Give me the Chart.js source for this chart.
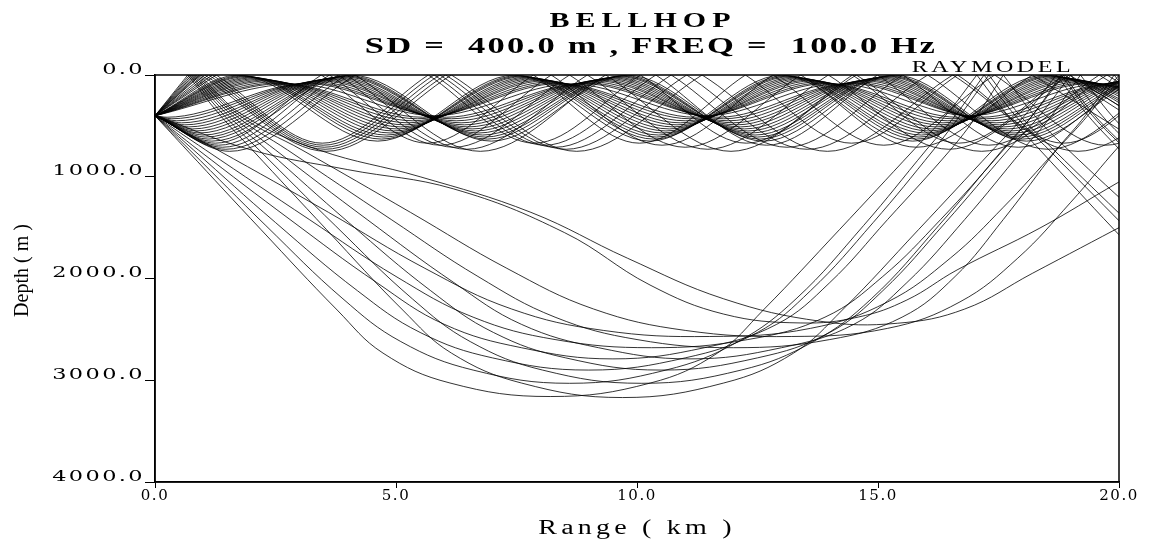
<!DOCTYPE html>
<html>
<head>
<meta charset="utf-8">
<script src="https://cdn.jsdelivr.net/npm/chart.js@4.4.1/dist/chart.umd.min.js"></script>
<style>
  html, body { margin: 0; padding: 0; background: #fff; }
  #wrap { width: 1155px; height: 545px; }
</style>
</head>
<body>
<div id="wrap"><canvas id="rays" width="1155" height="545"></canvas></div>
<script>
// axes
const rangeTicks = [0, 5, 10, 15, 20];
const rangeTickLabels = ['0.0', '5.0', '10.0', '15.0', '20.0'];
const depthTicks = [0, 1000, 2000, 3000, 4000];
const depthTickLabels = ['0.0', '1000.0', '2000.0', '3000.0', '4000.0'];

// rays trapped in the upper duct, launched downward: [range km, depth m]
const ductRaysDown = [
  [[0,400],[0.25,415],[3.15,84],[6.05,415],[8.88,84],[11.7,415],[14.43,84],[17.15,415],[19.88,84],[22.6,415]],
  [[0,400],[0.35,430],[3.25,78],[6.15,430],[8.98,78],[11.8,430],[14.53,78],[17.25,430],[19.98,78],[22.7,430]],
  [[0,400],[0.45,450],[3.35,68],[6.25,450],[9.08,68],[11.9,450],[14.63,68],[17.35,450],[20.08,68],[22.8,450]],
  [[0,400],[0.55,470],[3.45,58],[6.35,470],[9.18,58],[12,470],[14.73,58],[17.45,470],[20.18,58],[22.9,470]],
  [[0,400],[0.62,490],[3.52,50],[6.42,490],[9.25,50],[12.07,490],[14.8,50],[17.52,490],[20.25,50],[22.97,490]],
  [[0,400],[0.7,510],[3.6,42],[6.5,510],[9.33,42],[12.15,510],[14.88,42],[17.6,510],[20.33,42],[23.05,510]],
  [[0,400],[0.78,530],[3.68,35],[6.58,530],[9.41,35],[12.23,530],[14.96,35],[17.68,530],[20.41,35],[23.13,530]],
  [[0,400],[0.85,550],[3.75,28],[6.65,550],[9.48,28],[12.3,550],[15.03,28],[17.75,550],[20.48,28],[23.2,550]],
  [[0,400],[0.92,570],[3.82,22],[6.72,570],[9.55,22],[12.37,570],[15.1,22],[17.82,570],[20.55,22],[23.27,570]],
  [[0,400],[1,590],[3.9,16],[6.8,590],[9.63,16],[12.45,590],[15.18,16],[17.9,590],[20.63,16],[23.35,590]],
  [[0,400],[1.05,610],[3.95,11],[6.85,610],[9.68,11],[12.5,610],[15.23,11],[17.95,610],[20.68,11],[23.4,610]],
  [[0,400],[1.1,630],[4,6],[6.9,630],[9.73,6],[12.55,630],[15.28,6],[18,630],[20.73,6],[23.45,630]],
  [[0,400],[1.18,650],[4.08,2],[6.98,650],[9.81,2],[12.63,650],[15.36,2],[18.08,650],[20.81,2],[23.53,650]],
  [[0,400],[1.25,670],[3.45,0],[5.65,670],[7.85,0],[10.05,670],[12.25,0],[14.45,670],[16.65,0],[18.85,670],[21.05,0]],
  [[0,400],[1.32,690],[3.62,0],[5.92,690],[8.22,0],[10.52,690],[12.82,0],[15.12,690],[17.42,0],[19.72,690],[22.02,0]],
  [[0,400],[1.4,710],[3.8,0],[6.2,710],[8.6,0],[11,710],[13.4,0],[15.8,710],[18.2,0],[20.6,710]],
  [[0,400],[1.47,730],[3.97,0],[6.47,730],[8.97,0],[11.47,730],[13.97,0],[16.47,730],[18.97,0],[21.47,730]],
  [[0,400],[1.55,750],[4.15,0],[6.75,750],[9.35,0],[11.95,750],[14.55,0],[17.15,750],[19.75,0],[22.35,750]]
];

// rays trapped in the upper duct, launched upward
const ductRaysUp = [
  [[0,400],[2.9,88],[5.8,400],[8.63,88],[11.45,400],[14.18,88],[16.9,400],[19.63,88],[22.35,400]],
  [[0,400],[2.65,84],[5.55,415],[8.38,84],[11.2,415],[13.93,84],[16.65,415],[19.38,84],[22.1,415]],
  [[0,400],[2.55,78],[5.45,430],[8.28,78],[11.1,430],[13.83,78],[16.55,430],[19.28,78],[22,430]],
  [[0,400],[2.45,68],[5.35,450],[8.18,68],[11,450],[13.73,68],[16.45,450],[19.18,68],[21.9,450]],
  [[0,400],[2.35,58],[5.25,470],[8.08,58],[10.9,470],[13.63,58],[16.35,470],[19.08,58],[21.8,470]],
  [[0,400],[2.28,50],[5.18,490],[8.01,50],[10.83,490],[13.56,50],[16.28,490],[19.01,50],[21.73,490]],
  [[0,400],[2.2,42],[5.1,510],[7.93,42],[10.75,510],[13.48,42],[16.2,510],[18.93,42],[21.65,510]],
  [[0,400],[2.12,35],[5.02,530],[7.85,35],[10.67,530],[13.4,35],[16.12,530],[18.85,35],[21.57,530]],
  [[0,400],[2.05,28],[4.95,550],[7.78,28],[10.6,550],[13.33,28],[16.05,550],[18.78,28],[21.5,550]],
  [[0,400],[1.98,22],[4.88,570],[7.71,22],[10.53,570],[13.26,22],[15.98,570],[18.71,22],[21.43,570]],
  [[0,400],[1.9,16],[4.8,590],[7.63,16],[10.45,590],[13.18,16],[15.9,590],[18.63,16],[21.35,590]],
  [[0,400],[1.85,11],[4.75,610],[7.58,11],[10.4,610],[13.13,11],[15.85,610],[18.58,11],[21.3,610]],
  [[0,400],[1.8,6],[4.7,630],[7.53,6],[10.35,630],[13.08,6],[15.8,630],[18.53,6],[21.25,630]],
  [[0,400],[1.72,2],[4.62,650],[7.45,2],[10.27,650],[13,2],[15.72,650],[18.45,2],[21.17,650]],
  [[0,400],[1.27,0],[3.47,670],[5.67,0],[7.87,670],[10.07,0],[12.27,670],[14.47,0],[16.67,670],[18.87,0],[21.07,670]],
  [[0,400],[1.19,0],[3.49,690],[5.79,0],[8.09,690],[10.39,0],[12.69,690],[14.99,0],[17.29,690],[19.59,0],[21.89,690]],
  [[0,400],[1.11,0],[3.51,710],[5.91,0],[8.31,710],[10.71,0],[13.11,710],[15.51,0],[17.91,710],[20.31,0]],
  [[0,400],[1.03,0],[3.53,730],[6.03,0],[8.53,730],[11.03,0],[13.53,730],[16.03,0],[18.53,730],[21.03,0]],
  [[0,400],[0.95,0],[3.55,750],[6.15,0],[8.75,750],[11.35,0],[13.95,750],[16.55,0],[19.15,750],[21.75,0]]
];

// deep refracted rays launched downward
const deepRaysDown = [
  [[0,400],[0.66,737],[2.2,1520],[3.78,2310],[4.73,2733],[6.12,3027],[8.2,3160],[10.28,3027],[11.67,2733],[12.62,2310],[14.2,1520],[15.74,737],[16.4,400],[17.05,0],[17.7,400],[18.36,737],[19.9,1520],[21.5,2310]],
  [[0,400],[0.72,737],[2.3,1480],[3.9,2200],[5.1,2620],[6.6,2900],[8.6,3030],[10.6,2900],[12.1,2620],[13.3,2200],[14.7,1480],[16,737],[16.6,400],[17.2,0],[17.85,400],[18.55,737],[20.1,1480]],
  [[0,400],[0.8,737],[2.5,1450],[4.2,2120],[5.5,2530],[7,2780],[9,2900],[11,2780],[12.5,2530],[13.6,2120],[14.9,1450],[16.15,737],[16.7,400],[17.3,0],[17.95,400],[18.65,737],[20.2,1450]],
  [[0,400],[0.9,737],[2.8,1420],[4.6,2040],[6,2450],[7.6,2680],[9.5,2790],[11.4,2680],[12.9,2450],[14,2040],[15.2,1420],[16.5,737],[17.05,400],[17.6,0],[18.25,400],[18.95,737],[20.5,1420]],
  [[0,400],[1.05,737],[3.2,1420],[5,1980],[6.6,2380],[8.3,2600],[10.3,2680],[12.3,2600],[13.9,2380],[15.1,1980],[16.3,1420],[17.6,737],[18.2,400],[18.8,0],[19.45,400],[20.15,737]],
  [[0,400],[1.3,737],[3.6,1350],[5.6,1900],[7.4,2300],[9.3,2510],[11.5,2570],[13.6,2490],[15.2,2230],[16.5,1800],[17.6,1300],[18.7,737],[19.35,400],[20,0]],
  [[0,400],[2,737],[4,930],[6.2,1120],[8.5,1550],[10.27,2064],[11.8,2350],[13.4,2437],[14.6,2378],[15.6,2211],[16.64,1916],[18.36,1504],[19.96,1062],[20.5,920]]
];

// deep refracted rays launched upward, reflected at the surface first
const deepRaysReflected = [
  [[0,400],[0.68,0],[1.36,400],[2.02,737],[3.56,1520],[5.14,2310],[6.15,2733],[7.6,3027],[9.7,3170],[11.8,3027],[13.25,2733],[14.26,2310],[15.84,1520],[17.38,737],[18.04,400],[18.7,0],[19.36,400],[20.02,737]],
  [[0,400],[0.72,0],[1.44,400],[2.16,737],[3.74,1480],[5.34,2200],[6.54,2620],[8.04,2900],[10.1,3030],[12.16,2900],[13.66,2620],[14.86,2200],[16.26,1480],[17.58,737],[18.2,400],[18.85,0],[19.5,400],[20.2,737]],
  [[0,400],[0.76,0],[1.52,400],[2.32,737],[4.02,1450],[5.72,2120],[7.02,2530],[8.52,2780],[10.5,2900],[12.5,2780],[14,2530],[15.1,2120],[16.4,1450],[17.7,737],[18.35,400],[19,0],[19.65,400],[20.35,737]],
  [[0,400],[0.8,0],[1.6,400],[2.5,737],[4.4,1420],[6.2,2040],[7.6,2450],[9.2,2680],[11.1,2790],[13,2680],[14.5,2450],[15.6,2040],[16.8,1420],[18,737],[18.6,400],[19.2,0],[19.85,400],[20.55,737]],
  [[0,400],[0.84,0],[1.68,400],[2.75,737],[4.9,1420],[6.7,1980],[8.3,2380],[10,2600],[12,2680],[14,2600],[15.5,2380],[16.6,1980],[17.6,1420],[18.7,737],[19.3,400],[19.9,0],[20.55,400]],
  [[0,400],[0.88,0],[1.76,400],[3.05,737],[5.3,1350],[7.3,1900],[9.1,2300],[11,2510],[13.2,2570],[15.2,2490],[16.7,2230],[17.9,1800],[19,1250],[20,700],[20.6,400]],
  [[0,400],[0.92,0],[1.84,400],[3.4,737],[5.5,1000],[7.8,1350],[9.8,1800],[11.8,2200],[13.8,2420],[15.4,2440],[16.8,2300],[18.2,1950],[20.2,1450]]
];

// a surface bounce breaks a ray into separate pieces so the corner stays sharp
function splitAtSurface(ray) {
  const segs = [];
  let cur = [];
  ray.forEach((p, i) => {
    cur.push(p);
    if (p[1] === 0 && i > 0 && i < ray.length - 1) {
      segs.push(cur);
      cur = [p];
    }
  });
  segs.push(cur);
  return segs;
}

const datasets = [];
const addRays = (rays, smooth) => {
  rays.forEach(ray => {
    splitAtSurface(ray).forEach(seg => {
      datasets.push({
        data: seg.map(p => ({ x: p[0], y: p[1] })),
        borderColor: '#000',
        borderWidth: 0.8,
        pointRadius: 0,
        fill: false,
        ...smooth
      });
    });
  });
};
addRays(ductRaysDown, { cubicInterpolationMode: 'monotone' });
addRays(ductRaysUp, { cubicInterpolationMode: 'monotone' });
addRays(deepRaysDown, { tension: 0.4 });
addRays(deepRaysReflected, { tension: 0.4 });

// the original plot font is very wide: stretch the scale texts sideways
const wideScaleText = {
  id: 'wideScaleText',
  beforeDraw(chart) {
    const ctx = chart.ctx;
    const wrap = (scale, name, anchorX, sx, spacing, dy) => {
      if (scale['_w_' + name]) return;
      const orig = scale[name].bind(scale);
      scale[name] = (area) => {
        ctx.save();
        ctx.letterSpacing = spacing;
        ctx.translate(anchorX() * (1 - sx), dy);
        ctx.scale(sx, 1);
        orig(area);
        ctx.restore();
      };
      scale['_w_' + name] = true;
    };
    const a = () => chart.chartArea;
    wrap(chart.scales.y, 'drawLabels', () => a().left - 10, 1.6, '1.5px', 0);
    wrap(chart.scales.y, 'drawTitle', () => 0, 1, '0px', -8);
    wrap(chart.scales.x, 'drawLabels', () => 0, 1, '1.5px', 0);
    wrap(chart.scales.x, 'drawTitle', () => (a().left + a().right) / 2, 1.4, '3px', 0);
  }
};

const frameAndTitles = {
  id: 'frameAndTitles',
  afterDatasetsDraw(chart) {
    const { ctx, chartArea: a } = chart;
    ctx.save();
    ctx.strokeStyle = '#000';
    ctx.lineWidth = 1.5;
    ctx.strokeRect(a.left, a.top, a.right - a.left, a.bottom - a.top);
    ctx.restore();
  },
  afterDraw(chart) {
    const ctx = chart.ctx;
    const wide = (text, cx, cy, font, sx, spacing) => {
      ctx.save();
      ctx.fillStyle = '#000';
      ctx.font = font;
      ctx.letterSpacing = spacing + 'px';
      ctx.textAlign = 'center';
      ctx.textBaseline = 'middle';
      ctx.translate(cx, cy);
      ctx.scale(sx, 1);
      ctx.fillText(text, 0, 0);
      ctx.restore();
    };
    wide('BELLHOP', 643, 22, 'bold 20px "Liberation Serif"', 1.5, 4);
    wide('SD =  400.0 m , FREQ =  100.0 Hz', 651, 47, 'bold 23px "Liberation Serif"', 1.5, 1.5);
    wide('RAYMODEL', 993, 68, '16px "Liberation Serif"', 1.5, 2.4);
  }
};

new Chart(document.getElementById('rays'), {
  type: 'line',
  data: { datasets },
  options: {
    responsive: false,
    animation: false,
    devicePixelRatio: 1,
    layout: { padding: { top: 75, right: 36, left: 0, bottom: 0 } },
    plugins: { legend: { display: false }, tooltip: { enabled: false }, title: { display: false } },
    scales: {
      x: {
        type: 'linear',
        position: 'bottom',
        min: 0,
        max: 20,
        afterBuildTicks: s => { s.ticks = rangeTicks.map(v => ({ value: v })); },
        afterFit: s => { s.height = 63; },
        ticks: {
          callback: (v, i) => rangeTickLabels[i],
          color: '#000',
          font: { family: 'DejaVu Serif', size: 15 },
          maxRotation: 0,
          autoSkip: false,
          padding: -1
        },
        grid: { drawOnChartArea: false, drawTicks: true, tickLength: 6, tickColor: '#000', tickWidth: 1 },
        border: { display: true, color: '#000', width: 1.5 },
        title: {
          display: true,
          text: 'Range ( km )',
          color: '#000',
          font: { family: 'Liberation Serif', size: 20 },
          padding: { top: 0, bottom: 4 }
        }
      },
      y: {
        type: 'linear',
        position: 'left',
        reverse: true,
        min: 0,
        max: 4000,
        afterBuildTicks: s => { s.ticks = depthTicks.map(v => ({ value: v })); },
        afterFit: s => { s.width = 155; },
        ticks: {
          callback: (v, i) => depthTickLabels[i],
          color: '#000',
          font: { family: 'DejaVu Serif', size: 14 },
          labelOffset: -5,
          padding: 0,
          autoSkip: false
        },
        grid: { drawOnChartArea: false, drawTicks: true, tickLength: 10, tickColor: '#000', tickWidth: 1 },
        border: { display: true, color: '#000', width: 1.5 },
        title: {
          display: true,
          text: 'Depth ( m )',
          color: '#000',
          font: { family: 'Liberation Serif', size: 20 },
          padding: { top: 11, bottom: 0 }
        }
      }
    }
  },
  plugins: [wideScaleText, frameAndTitles]
});
</script>
</body>
</html>
